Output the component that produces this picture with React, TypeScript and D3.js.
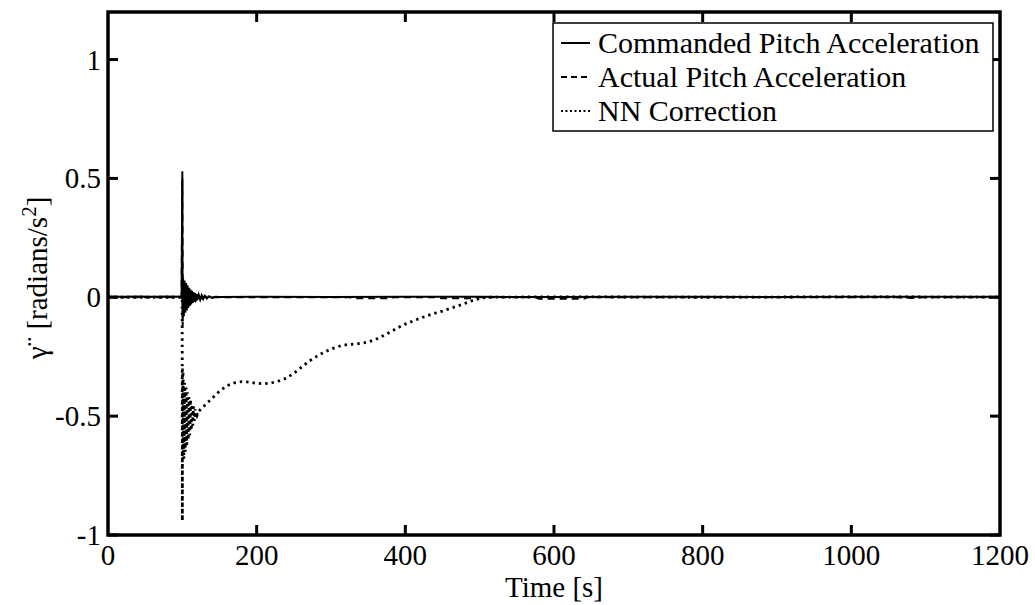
import React from "react";
import * as d3 from "d3";

const xTicks = [0, 200, 400, 600, 800, 1000, 1200];
const yTicks = [-1, -0.5, 0, 0.5, 1];
const yTickLabels = ["-1", "-0.5", "0", "0.5", "1"];
const legendLabels = ["Commanded Pitch Acceleration", "Actual Pitch Acceleration", "NN Correction"];

// Commanded pitch acceleration (solid)
const cmdTime = [0, 20, 40, 60, 80, 99, 100, 100.4, 101, 102, 103, 104, 105, 106, 107, 108, 109, 110, 111, 112, 113, 114, 115, 116, 117, 118, 119, 120, 122, 124, 126, 128, 130, 133, 136, 140, 145, 150, 200, 300, 400, 500, 600, 700, 800, 900, 1000, 1100, 1200];
const cmdValue = [0.003, 0.002, 0.003, 0.002, 0.003, 0.002, 0.53, -0.1, 0.08, -0.08, 0.07, -0.065, 0.06, -0.055, 0.05, -0.045, 0.04, -0.036, 0.033, -0.03, 0.027, -0.024, 0.022, -0.02, 0.018, -0.016, 0.014, -0.013, 0.011, -0.01, 0.008, -0.007, 0.006, -0.005, 0.004, -0.003, 0.002, 0.001, 0.002, 0.001, 0.002, 0.002, 0.001, 0.002, 0.002, 0.001, 0.002, 0.002, 0.002];

// Actual pitch acceleration (dashed)
const actTime = [0, 50, 99, 100, 100.5, 101, 102, 103, 104, 105, 106, 107, 108, 109, 110, 112, 114, 116, 118, 120, 125, 130, 140, 200, 300, 325, 330, 380, 385, 440, 450, 490, 495, 575, 580, 640, 645, 700, 800, 900, 1000, 1060, 1080, 1100, 1200];
const actValue = [0.0, 0.0, 0.0, 0.5, -0.12, 0.07, -0.07, 0.06, -0.055, 0.05, -0.045, 0.04, -0.035, 0.03, -0.027, 0.022, -0.018, 0.014, -0.011, 0.008, -0.005, 0.003, 0.0, 0.0, 0.0, 0.0, -0.004, -0.004, 0.0, 0.0, -0.004, -0.004, 0.0, 0.0, -0.006, -0.006, 0.0, 0.0, 0.0, 0.0, 0.0, 0.0, -0.003, 0.0, 0.0];

// NN correction (dotted)
const nnTime = [0, 50, 99.8, 100, 100.3, 101, 102, 103, 104, 105, 106, 107, 108, 109, 110, 111, 112, 113, 114, 115, 116, 117, 118, 119, 120, 122, 125, 130, 140, 150, 160, 170, 180, 190, 200, 210, 220, 230, 240, 250, 260, 270, 280, 290, 300, 310, 320, 330, 340, 350, 360, 370, 380, 390, 400, 410, 420, 430, 440, 450, 460, 470, 480, 490, 500, 510, 600, 800, 1000, 1200];
const nnValue = [0, 0, 0, -0.94, -0.3, -0.32, -0.68, -0.36, -0.65, -0.38, -0.62, -0.4, -0.6, -0.42, -0.58, -0.43, -0.56, -0.45, -0.54, -0.46, -0.52, -0.47, -0.51, -0.48, -0.495, -0.48, -0.47, -0.455, -0.425, -0.395, -0.372, -0.36, -0.355, -0.357, -0.362, -0.364, -0.36, -0.352, -0.34, -0.32, -0.295, -0.27, -0.25, -0.232, -0.218, -0.207, -0.2, -0.197, -0.194, -0.188, -0.177, -0.162, -0.146, -0.128, -0.113, -0.1, -0.088, -0.077, -0.067, -0.058, -0.047, -0.037, -0.026, -0.014, -0.005, 0, 0.002, 0, 0.002, 0];

const W = 1035;
const H = 605;
const FF = "Liberation Serif";

export default function App() {
  const left = 108, right = 1000, top = 12, bottom = 535;
  const x = d3.scaleLinear().domain([0, 1200]).range([left, right]);
  const y = d3.scaleLinear().domain([-1, 1.2]).range([bottom, top]);

  const mk = (t: number[], v: number[]) =>
    d3.line<number>().x((_, i) => x(t[i])).y((d) => y(d)).curve(d3.curveLinear)(v) || "";

  const series = [
    { d: mk(cmdTime, cmdValue), dash: "none", w: 2 },
    { d: mk(actTime, actValue), dash: "7,5", w: 2 },
    { d: mk(nnTime, nnValue), dash: "2.4,4", w: 2.8 },
  ];

  const tickLen = 10;
  const legX = 553, legY = 23, legW = 440, legH = 108;
  const rowY = [43, 77, 111];

  return (
    <div>
      <svg width={W} height={H} style={{ position: "absolute", left: 0, top: 0 }}>
        <rect x={0} y={0} width={W} height={H} fill="#fff" />
        {series.map((s, i) => (
          <path key={i} d={s.d} fill="none" stroke="#000" strokeWidth={s.w} strokeDasharray={s.dash} />
        ))}
        {xTicks.slice(1, -1).map((t) => (
          <g key={"xt" + t}>
            <line x1={x(t)} x2={x(t)} y1={bottom} y2={bottom - tickLen} stroke="#000" strokeWidth={3} />
            <line x1={x(t)} x2={x(t)} y1={top} y2={top + tickLen} stroke="#000" strokeWidth={3} />
          </g>
        ))}
        {yTicks.map((t) => (
          <g key={"yt" + t}>
            <line x1={left} x2={left + tickLen} y1={y(t)} y2={y(t)} stroke="#000" strokeWidth={3} />
            <line x1={right} x2={right - tickLen} y1={y(t)} y2={y(t)} stroke="#000" strokeWidth={3} />
          </g>
        ))}
        <rect x={left} y={top} width={right - left} height={bottom - top} fill="none" stroke="#000" strokeWidth={3.5} />
        {xTicks.map((t) => (
          <text key={"xl" + t} x={x(t)} y={565} textAnchor="middle" fontSize={29} fontFamily={FF}>
            {String(t)}
          </text>
        ))}
        {yTicks.map((t, i) => (
          <text key={"yl" + t} x={101} y={y(t) + 10} textAnchor="end" fontSize={29} fontFamily={FF}>
            {yTickLabels[i]}
          </text>
        ))}
        <text x={(left + right) / 2} y={597} textAnchor="middle" fontSize={29} fontFamily={FF}>
          Time [s]
        </text>
        <text transform="translate(46.5,278) rotate(-90)" textAnchor="middle" fontSize={29} fontFamily={FF}>
          γ¨ [radians/s<tspan dy={-11} fontSize={21}>2</tspan>
          <tspan dy={11}>]</tspan>
        </text>
        <rect x={legX} y={legY} width={legW} height={legH} fill="#fff" stroke="#000" strokeWidth={1.5} />
        {legendLabels.map((lab, i) => (
          <g key={lab}>
            <line x1={561} x2={590} y1={rowY[i]} y2={rowY[i]} stroke="#000" strokeWidth={2}
              strokeDasharray={i === 1 ? "6,4" : i === 2 ? "2,2.5" : "none"} />
            <text x={598} y={rowY[i] + 10} fontSize={30} fontFamily={FF}>
              {lab}
            </text>
          </g>
        ))}
      </svg>
    </div>
  );
}
